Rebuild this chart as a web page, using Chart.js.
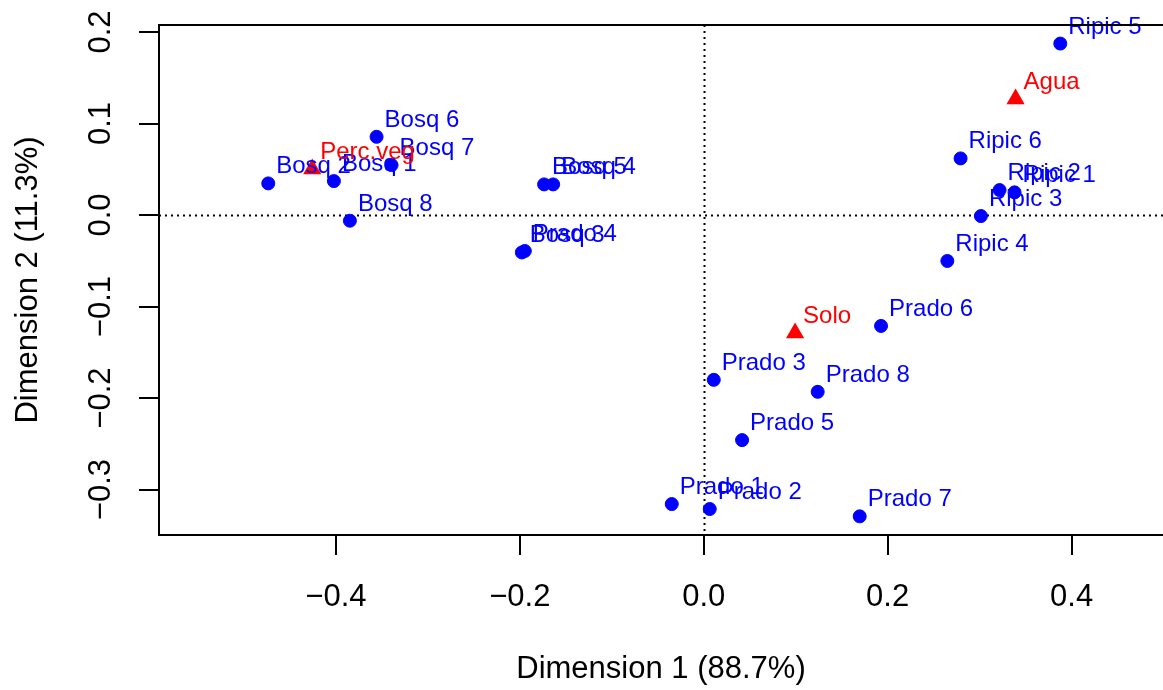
<!DOCTYPE html>
<html lang="en">
<head>
    <meta charset="UTF-8">
    <title>Dimension 1 x Dimension 2</title>
    <script src="https://cdn.jsdelivr.net/npm/chart.js"></script>
    <style>
        html, body { margin: 0; padding: 0; background: #fff; }
        #wrap { width: 1163px; height: 690px; }
    </style>
</head>
<body>
    <div id="wrap"><canvas id="caPlot" width="1163" height="690"></canvas></div>

    <script>
        // row points (sites)
        const rowNames = ['Bosq 1', 'Bosq 2', 'Bosq 3', 'Bosq 4', 'Bosq 5', 'Bosq 6', 'Bosq 7', 'Bosq 8',
                          'Prado 1', 'Prado 2', 'Prado 3', 'Prado 4', 'Prado 5', 'Prado 6', 'Prado 7', 'Prado 8',
                          'Ripic 1', 'Ripic 2', 'Ripic 3', 'Ripic 4', 'Ripic 5', 'Ripic 6'];
        const rowDim1 = [-0.4022, -0.4736, -0.1978, -0.1638, -0.1736, -0.3558, -0.3395, -0.3848,
                         -0.0348, 0.0065, 0.0109, -0.1946, 0.0417, 0.1928, 0.1696, 0.1239,
                         0.3380, 0.3217, 0.3014, 0.2649, 0.3877, 0.2793];
        const rowDim2 = [0.0371, 0.0346, -0.0409, 0.0335, 0.0335, 0.0855, 0.0546, -0.0062,
                         -0.3159, -0.3213, -0.1801, -0.0393, -0.2460, -0.1212, -0.3293, -0.1932,
                         0.0248, 0.0273, -0.0011, -0.0502, 0.1874, 0.0619];

        // column points (cover types)
        const colNames = ['Perc.veg', 'Agua', 'Solo'];
        const colDim1 = [-0.4258, 0.3391, 0.0993];
        const colDim2 = [0.0504, 0.1269, -0.1290];

        const xTicks = [-0.4, -0.2, 0.0, 0.2, 0.4];
        const yTicks = [-0.3, -0.2, -0.1, 0.0, 0.1, 0.2];

        const FONT = '"Liberation Sans", Arial, Helvetica, sans-serif';
        const fmt = v => v.toFixed(1).replace('-', '\u2212');

        // text labels next to each point, axis labels, zero lines and box
        const caDecor = {
            id: 'caDecor',
            beforeDatasetsDraw(chart) {
                const { ctx, chartArea: a, scales: { x, y } } = chart;
                ctx.save();
                ctx.strokeStyle = '#000';
                ctx.lineWidth = 2;
                ctx.setLineDash([2, 4]);
                const x0 = Math.round(x.getPixelForValue(0)) + 0.5;
                const y0 = Math.round(y.getPixelForValue(0)) + 0.5;
                ctx.beginPath();
                ctx.moveTo(x0, a.top); ctx.lineTo(x0, a.bottom);
                ctx.moveTo(a.left, y0); ctx.lineTo(chart.width, y0);
                ctx.stroke();
                ctx.restore();
            },
            afterDatasetsDraw(chart) {
                const { ctx } = chart;
                ctx.save();
                ctx.font = '24px ' + FONT;
                ctx.textAlign = 'left';
                ctx.textBaseline = 'alphabetic';
                chart.data.datasets.forEach((ds, i) => {
                    const meta = chart.getDatasetMeta(i);
                    ctx.fillStyle = ds.labelColor;
                    meta.data.forEach((pt, j) => {
                        ctx.fillText(ds.names[j], pt.x + 8, pt.y - 10);
                    });
                });
                ctx.restore();
            },
            afterDraw(chart) {
                const { ctx, chartArea: a, scales: { x, y } } = chart;
                ctx.save();
                // box (right side falls outside the canvas)
                ctx.strokeStyle = '#000';
                ctx.lineWidth = 2;
                ctx.beginPath();
                ctx.moveTo(chart.width + 2, a.top);
                ctx.lineTo(a.left, a.top);
                ctx.lineTo(a.left, a.bottom);
                ctx.lineTo(chart.width + 2, a.bottom);
                ctx.stroke();

                ctx.fillStyle = '#000';
                ctx.font = '31px ' + FONT;
                ctx.textAlign = 'center';
                ctx.textBaseline = 'middle';
                xTicks.forEach(v => ctx.fillText(fmt(v), x.getPixelForValue(v), 597));
                yTicks.forEach(v => {
                    ctx.save();
                    ctx.translate(101, y.getPixelForValue(v));
                    ctx.rotate(-Math.PI / 2);
                    ctx.fillText(fmt(v), 0, 0);
                    ctx.restore();
                });
                ctx.fillText('Dimension 1 (88.7%)', (a.left + chart.width) / 2, 669);
                ctx.save();
                ctx.translate(28, (a.top + a.bottom) / 2);
                ctx.rotate(-Math.PI / 2);
                ctx.fillText('Dimension 2 (11.3%)', 0, 0);
                ctx.restore();
                ctx.restore();
            }
        };

        const onlyTicks = list => scale => { scale.ticks = list.map(v => ({ value: v })); };

        new Chart(document.getElementById('caPlot'), {
            type: 'scatter',
            data: {
                datasets: [{
                    names: rowNames,
                    labelColor: '#0000ff',
                    data: rowDim1.map((v, i) => ({ x: v, y: rowDim2[i] })),
                    pointStyle: 'circle',
                    pointRadius: 6.5,
                    pointBackgroundColor: '#0000ff',
                    pointBorderColor: '#0000ff',
                    pointBorderWidth: 1,
                    clip: false
                }, {
                    names: colNames,
                    labelColor: '#ff0000',
                    data: colDim1.map((v, i) => ({ x: v, y: colDim2[i] })),
                    pointStyle: 'triangle',
                    pointRadius: 10.5,
                    pointBackgroundColor: '#ff0000',
                    pointBorderColor: '#ff0000',
                    pointBorderWidth: 0,
                    clip: false
                }]
            },
            options: {
                responsive: false,
                animation: false,
                events: [],
                layout: { padding: { top: 25, right: 0, left: 0, bottom: 0 } },
                plugins: { legend: { display: false }, tooltip: { enabled: false } },
                scales: {
                    x: {
                        type: 'linear',
                        min: -0.5924,
                        max: 0.4880,
                        afterBuildTicks: onlyTicks(xTicks),
                        afterFit: s => { s.height = 155; },
                        ticks: { display: false },
                        border: { display: false },
                        grid: { drawOnChartArea: false, drawTicks: true, tickLength: 20, color: '#000', lineWidth: 2 }
                    },
                    y: {
                        type: 'linear',
                        min: -0.3497,
                        max: 0.2077,
                        afterBuildTicks: onlyTicks(yTicks),
                        afterFit: s => { s.width = 159; },
                        ticks: { display: false },
                        border: { display: false },
                        grid: { drawOnChartArea: false, drawTicks: true, tickLength: 20, color: '#000', lineWidth: 2 }
                    }
                }
            },
            plugins: [caDecor]
        });
    </script>
</body>
</html>
